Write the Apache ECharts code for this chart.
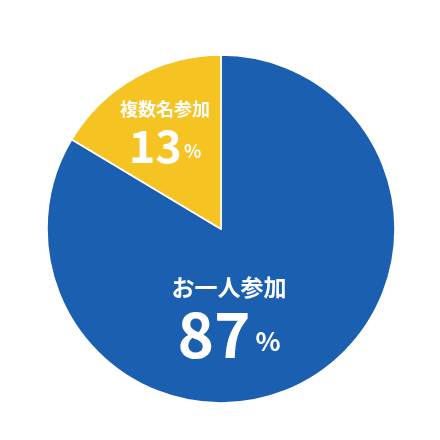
<!DOCTYPE html>
<html>
<head>
<meta charset="utf-8">
<script src="https://cdn.jsdelivr.net/npm/echarts@6/dist/echarts.min.js"></script>
<style>
html,body{margin:0;padding:0;background:#fff;}
#main{width:440px;height:440px;}
</style>
</head>
<body>
<div id="main"></div>
<script>
// 参加形態の割合
var names = ['お一人参加', '複数名参加'];
var percentLabels = [87, 13];      // 表示される数字
var sliceValues = [83.6, 16.4];    // 図の扇形の大きさ
var colors = ['#1b5fb1', '#f5c322'];

// ラベルの中心位置（ピクセル）
var labelPos = [[229, 318], [165, 132]];

var myChart = echarts.init(document.getElementById('main'));
var data = [];
for (var i = 0; i < names.length; i++) {
    data.push({ name: names[i], value: sliceValues[i], itemStyle: { color: colors[i] } });
}

var option = {
    animation: false,
    series: [{
        type: 'pie',
        center: [221, 229],
        radius: [0, 174],
        startAngle: 90,
        clockwise: true,
        data: data,
        itemStyle: { borderColor: '#fff', borderWidth: 1.5 },
        label: {
            position: 'inside',
            formatter: function (p) {
                var k = p.dataIndex === 0 ? 'a' : 'b';
                return '{' + k + 'n|' + p.name + '}\n{' + k + 'v|' + percentLabels[p.dataIndex] + '}{' + k + 'p|%}';
            },
            fontFamily: '"Noto Sans CJK JP", sans-serif',
            color: '#fff',
            align: 'center',
            verticalAlign: 'middle',
            rich: {
                an: { fontSize: 23, fontWeight: 'bold', color: '#fff', lineHeight: 32, fontFamily: '"Noto Sans CJK JP"' },
                av: { fontSize: 62, fontWeight: 'bold', color: '#fff', lineHeight: 62, fontFamily: '"Noto Sans CJK JP"' },
                ap: { fontSize: 26, fontWeight: 'bold', color: '#fff', padding: [14, 0, 0, 5], fontFamily: '"Noto Sans CJK JP"' },
                bn: { fontSize: 18, fontWeight: 'bold', color: '#fff', lineHeight: 28, fontFamily: '"Noto Sans CJK JP"' },
                bv: { fontSize: 45, fontWeight: 'bold', color: '#fff', lineHeight: 46, fontFamily: '"Noto Sans CJK JP"' },
                bp: { fontSize: 18, fontWeight: 'bold', color: '#fff', padding: [10, 0, 0, 2], fontFamily: '"Noto Sans CJK JP"' }
            }
        },
        labelLine: { show: false },
        labelLayout: function (params) {
            var p = labelPos[params.dataIndex];
            return { x: p[0], y: p[1], align: 'center', verticalAlign: 'middle' };
        }
    }]
};
myChart.setOption(option);
</script>
</body>
</html>
